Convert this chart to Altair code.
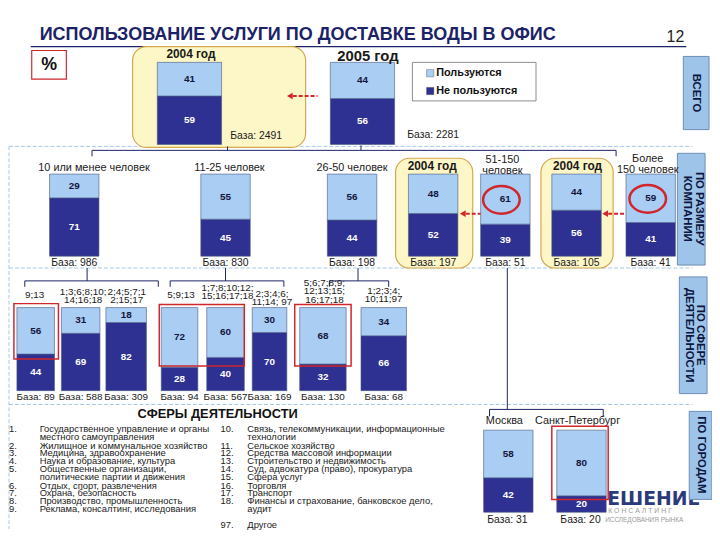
import altair as alt
import pandas as pd

# ---------------- data ----------------
TITLE = "ИСПОЛЬЗОВАНИЕ УСЛУГИ ПО ДОСТАВКЕ ВОДЫ В ОФИС"
STATUS = ["Пользуются", "Не пользуются"]

TOTAL_LABELS = ["2004 год", "2005 год"]
TOTAL_USE = [41, 44]
TOTAL_NON = [59, 56]
TOTAL_BASE = [2491, 2281]

SIZE_LABELS = ["10 или менее человек", "11-25 человек", "26-50 человек", "2004 год",
               "51-150\nчеловек", "2004 год", "Более\n150 человек"]
SIZE_USE = [29, 55, 56, 48, 61, 44, 59]
SIZE_NON = [71, 45, 44, 52, 39, 56, 41]
SIZE_BASE = [986, 830, 198, 197, 51, 105, 41]

SPHERE_LABELS = ["9;13", "1;3;6;8;10;\n14;16;18", "2;4;5;7;1\n2;15;17", "5;9;13",
                 "1;7;8;10;12;\n15;16;17;18", "2;3;4;6;\n11;14; 97",
                 "5;6;7;8;9;\n12;13;15;\n16;17;18", "1;2;3;4;\n10;11;97"]
SPHERE_USE = [56, 31, 18, 72, 60, 30, 68, 34]
SPHERE_NON = [44, 69, 82, 28, 40, 70, 32, 66]
SPHERE_BASE = [89, 588, 309, 94, 567, 169, 130, 68]

CITY_LABELS = ["Москва", "Санкт-Петербург"]
CITY_USE = [58, 80]
CITY_NON = [42, 20]
CITY_BASE = [31, 20]

TABS = ["ВСЕГО", "ПО РАЗМЕРУ\nКОМПАНИИ", "ПО СФЕРЕ\nДЕЯТЕЛЬНОСТИ", "ПО ГОРОДАМ"]

SPHERES_HEADER = "СФЕРЫ ДЕЯТЕЛЬНОСТИ"
SPHERES_LEFT = [("1.", "Государственное управление и органы"), ("", "местного самоуправления"),
                ("2.", "Жилищное и коммунальное хозяйство"), ("3.", "Медицина, здравоохранение"),
                ("4.", "Наука и образование, культура"), ("5.", "Общественные организации,"),
                ("", "политические партии и движения"), ("6.", "Отдых, спорт, развлечения"),
                ("7.", "Охрана, безопасность"), ("8.", "Производство, промышленность"),
                ("9.", "Реклама, консалтинг, исследования")]
SPHERES_RIGHT = [("10.", "Связь, телекоммуникации, информационные"), ("", "технологии"),
                 ("11.", "Сельское хозяйство"), ("12.", "Средства массовой информации"),
                 ("13.", "Строительство и недвижимость"), ("14.", "Суд, адвокатура (право), прокуратура"),
                 ("15.", "Сфера услуг"), ("16.", "Торговля"), ("17.", "Транспорт"),
                 ("18.", "Финансы и страхование, банковское дело,"), ("", "аудит"),
                 ("97.", " Другое")]

# ---------------- layout & style ----------------
W, H = 704, 524
OX, OY = 8, 8
FONT = "Liberation Sans"
LIGHT, DARK = "#a9cdf3", "#2e3192"
NAVY = "#1b2266"
RED = "#d0262c"
YELLOW, GOLD = "#fdf7c8", "#d6a74e"
TABC, TABS_STROKE = "#9ec4ea", "#6d8db5"
DASH = "#a5c8e6"

XS = alt.Scale(domain=[OX, OX + W], nice=False, zero=False)
YS = alt.Scale(domain=[OY, OY + H], nice=False, zero=False, reverse=True)
CS = alt.Scale(domain=STATUS, range=[LIGHT, DARK])


def X(f="x"):
    return alt.X(f"{f}:Q", scale=XS, axis=None)


def Y(f="y"):
    return alt.Y(f"{f}:Q", scale=YS, axis=None)


layers = []


def rects(items, **kw):
    df = pd.DataFrame(items, columns=["x", "y", "x2", "y2"])
    layers.append(alt.Chart(df).mark_rect(**kw).encode(x=X("x"), x2="x2:Q", y=Y("y"), y2="y2:Q"))


def segs(items, **kw):
    df = pd.DataFrame(items, columns=["x", "y", "x2", "y2"])
    layers.append(alt.Chart(df).mark_rule(**kw).encode(x=X("x"), x2="x2:Q", y=Y("y"), y2="y2:Q"))


def texts(items, size, weight="normal", color="#1a1a1a", align="center", font=FONT, angle=0, **kw):
    df = pd.DataFrame(items, columns=["x", "y", "t"])
    layers.append(alt.Chart(df).mark_text(fontSize=size, fontWeight=weight, color=color, align=align,
                                          baseline="middle", font=font, angle=angle, lineBreak="\n", **kw)
                  .encode(x=X("x"), y=Y("y"), text="t:N"))


def bar_row(xs, use, non, top, bottom):
    rows = []
    for (x0, x1), u, n in zip(xs, use, non):
        rows.append(dict(x=x0, x2=x1, status=STATUS[1], lo=0, hi=n, val=n))
        rows.append(dict(x=x0, x2=x1, status=STATUS[0], lo=n, hi=n + u, val=u))
    df = pd.DataFrame(rows)
    ys = alt.Scale(domain=[0, 100], range=[bottom - OY, top - OY], nice=False, zero=False)
    base = alt.Chart(df)
    layers.append(base.mark_rect(stroke="#49587f", strokeWidth=0.6).encode(
        x=X("x"), x2="x2:Q", y=alt.Y("lo:Q", scale=ys, axis=None), y2="hi:Q",
        color=alt.Color("status:N", scale=CS, legend=None)))
    for st, col in [(STATUS[0], "#14143c"), (STATUS[1], "#ffffff")]:
        layers.append(base.transform_filter(alt.datum.status == st)
                      .transform_calculate(mid="(datum.lo + datum.hi) / 2", xc="(datum.x + datum.x2) / 2")
                      .mark_text(fontSize=10, fontWeight="bold", color=col, font=FONT)
                      .encode(x=X("xc"), y=alt.Y("mid:Q", scale=ys, axis=None), text="val:Q"))


def centers(xs):
    return [(a + b) / 2 for a, b in xs]


# panel dashed borders
segs([(9, 145, 700, 145), (9, 268, 700, 268), (9, 406, 700, 406), (9, 145, 9, 532)],
     color=DASH, strokeWidth=1, strokeDash=[4, 2])

# header
texts([(40, 32, TITLE)], 18.2, "bold", NAVY, "left")
texts([(683, 34, "12")], 16, "normal", "#222222")
segs([(31, 44, 694, 44)], color=NAVY, strokeWidth=1.2)
rects([(32, 48, 67, 77)], fill="white", stroke=RED, strokeWidth=1.2)
texts([(49.5, 62.5, "%")], 18, "bold", "#111111")

# yellow "2004" boxes
rects([(134, 44, 309, 146), (400, 157, 478, 268), (547, 157, 620, 268)],
      fill=YELLOW, stroke=GOLD, strokeWidth=1.2, cornerRadius=14)

# logo fragment (partly hidden behind the tab)
texts([(614, 502, "ЕШЕНИЕ")], 19, "bold", "#2b3a7a", "left", "DejaVu Sans")
texts([(615, 514, "К О Н С А Л Т И Н Г")], 7, "normal", "#9a9a9a", "left")
texts([(612, 523, "ИССЛЕДОВАНИЯ РЫНКА")], 6.5, "normal", "#9a9a9a", "left")

# side tabs
rects([(691, 54, 717, 128), (685, 152, 713, 265), (687, 277, 715, 395), (697, 413, 720, 502)],
      fill=TABC, stroke=TABS_STROKE, strokeWidth=1)
texts([(704, 91, TABS[0]), (706.5, 208, TABS[1]), (708, 336, TABS[2]), (709, 457, TABS[3])],
      11.5, "bold", "#0d1640", angle=90, lineHeight=11.5)

# connectors
segs([(365, 144, 365, 149), (230, 145, 230, 149), (93, 149, 623, 149), (93, 149, 93, 155), (623, 149, 623, 155),
      (88, 268, 88, 281), (228, 268, 228, 281), (362, 268, 362, 281),
      (25, 281, 160, 281), (172, 281, 287, 281), (333, 281, 393, 281),
      (25, 281, 25, 287), (160, 281, 160, 287), (172, 281, 172, 287), (287, 281, 287, 287),
      (333, 281, 333, 287), (393, 281, 393, 287),
      (513, 268, 513, 411), (495, 411, 610, 411), (495, 411, 495, 418), (610, 411, 610, 418)],
     color=NAVY, strokeWidth=1)

# ---- top row: total ----
TOP_X = [(159, 224), (334, 399)]
bar_row(TOP_X, TOTAL_USE, TOTAL_NON, 60, 143)
texts([(193, 52, TOTAL_LABELS[0])], 12, "bold")
texts([(372, 54, TOTAL_LABELS[1])], 15, "bold")
texts([(259, 135, f"База: {TOTAL_BASE[0]}"), (438, 133, f"База: {TOTAL_BASE[1]}")], 10.5)

# legend (squares coloured through the same colour scale)
rects([(417, 60, 542, 99)], fill="white", stroke="#8c8c8c", strokeWidth=1)
leg = pd.DataFrame({"x": [435, 435], "y": [71, 89], "status": STATUS})
layers.append(alt.Chart(leg).mark_square(size=55, opacity=1, stroke="#555", strokeWidth=0.4).encode(
    x=X("x"), y=Y("y"), color=alt.Color("status:N", scale=CS, legend=None)))
texts([(441, 71, STATUS[0]), (441, 89, STATUS[1])], 11, "bold", "#111111", "left")

# ---- company size row ----
SIZE_X = [(50, 100), (203, 253), (331, 381), (413, 463), (486, 536), (558, 608), (633, 683)]
SIZE_LY = [167, 167, 167, 165, 159, 165, 158]   # first-line positions
SIZE_LX = [95, 232, 356, 437, 508, 584, 655]
bar_row(SIZE_X, SIZE_USE, SIZE_NON, 173, 256)
texts([(x, y, t) for x, y, t in zip(SIZE_LX, SIZE_LY, SIZE_LABELS) if t != "2004 год"], 11, lineHeight=11)
texts([(x, y, t) for x, y, t in zip(SIZE_LX, SIZE_LY, SIZE_LABELS) if t == "2004 год"], 12, "bold")
texts([(c, 263, f"База: {b}") for c, b in zip(centers(SIZE_X), SIZE_BASE)], 10.5)

# ---- sphere row ----
SPH_X = [(17, 55), (62, 101), (107, 148), (163, 200), (209, 247), (255, 290), (303, 350), (365, 411)]
SPH_LX = [35, 84, 128, 183, 230, 275, 328, 388]
SPH_LY = [295, 292, 292, 295, 288, 294, 283, 291]   # first-line positions
bar_row(SPH_X, SPHERE_USE, SPHERE_NON, 308, 392)
texts(list(zip(SPH_LX, SPH_LY, SPHERE_LABELS)), 10, lineHeight=8.7)
texts([(c, 398, f"База: {b}") for c, b in zip(centers(SPH_X), SPHERE_BASE)], 10)

# ---- sphere list ----
texts([(220, 416, SPHERES_HEADER)], 13, "bold", "#111111")
LY = [431, 439, 448, 455.5, 463, 471, 479, 488, 496, 504, 512, 528]
texts([(9, y, n) for y, (n, _) in zip(LY, SPHERES_LEFT) if n], 9.5, align="left")
texts([(40, y, t) for y, (_, t) in zip(LY, SPHERES_LEFT)], 9.5, align="left")
texts([(223, y, n) for y, (n, _) in zip(LY, SPHERES_RIGHT) if n], 9.5, align="left")
texts([(250, y, t) for y, (_, t) in zip(LY, SPHERES_RIGHT)], 9.5, align="left")

# ---- cities ----
CITY_X = [(489, 539), (563, 613)]
bar_row(CITY_X, CITY_USE, CITY_NON, 432, 515)
texts([(510, 423, CITY_LABELS[0]), (584, 423, CITY_LABELS[1])], 11)
texts([(513, 523, f"База: {CITY_BASE[0]}"), (587, 523, f"База: {CITY_BASE[1]}")], 10.5)

# red highlight frames
red = pd.DataFrame([(14, 304, 59, 360), (161, 305, 247, 367), (298, 305, 355, 367), (558, 428, 615, 502)],
                   columns=["x", "y", "x2", "y2"])
layers.append(alt.Chart(red).mark_rect(fillOpacity=0, stroke=RED, strokeWidth=1.5).encode(
    x=X("x"), x2="x2:Q", y=Y("y"), y2="y2:Q"))

# red ellipses around the growing shares
ell = pd.DataFrame({"x": [507, 655], "y": [199, 198]})
layers.append(alt.Chart(ell).mark_point(
    shape="M-1,0A1,0.76,0,1,1,1,0A1,0.76,0,1,1,-1,0Z", size=1369, filled=False,
    stroke=RED, strokeWidth=2.5, opacity=1).encode(x=X("x"), y=Y("y")))

# red dashed arrows (tip on the left)
arr = pd.DataFrame([(296, 321, 94), (471, 486, 213), (615, 633, 213)], columns=["x", "x2", "y"])
layers.append(alt.Chart(arr).mark_rule(color=RED, strokeWidth=2, strokeDash=[4, 2]).encode(
    x=X("x"), x2="x2:Q", y=Y("y")))
tips = pd.DataFrame({"x": [293, 468, 612], "y": [94, 213, 213]})
layers.append(alt.Chart(tips).mark_point(shape="triangle-left", size=45, filled=True, color=RED, opacity=1)
              .encode(x=X("x"), y=Y("y")))

chart = alt.layer(*layers).resolve_scale(y="independent").properties(
    width=W, height=H, autosize=alt.AutoSizeParams(type="none"),
    padding={"left": 0, "top": 0, "right": 8, "bottom": 0},
    background="white",
).configure_view(strokeWidth=0)

chart.save("out.html", embed_options={"renderer": "svg", "actions": False})
